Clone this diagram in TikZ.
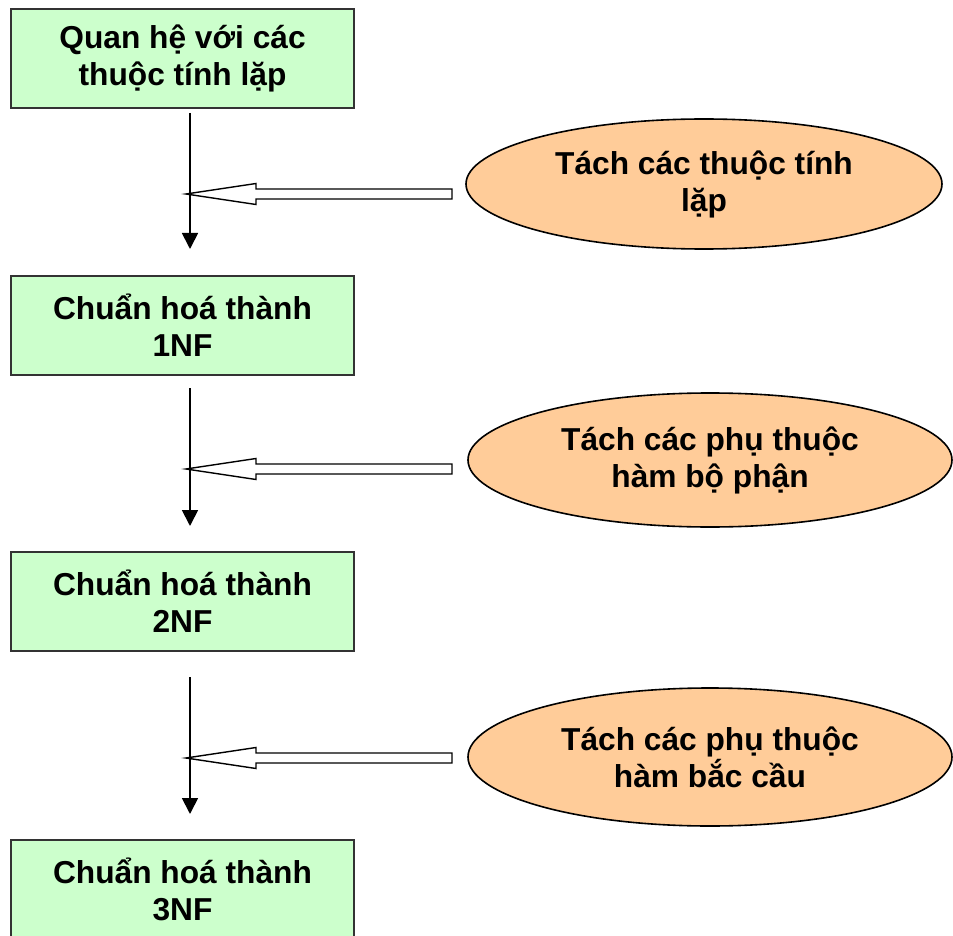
\documentclass[tikz,border=0pt]{standalone}
\usepackage{fontspec}
\setmainfont{Liberation Sans}
\usetikzlibrary{shapes.geometric,arrows.meta}

\definecolor{stagegreen}{HTML}{CCFFCC}
\definecolor{splitpeach}{HTML}{FFCC99}

\tikzset{
  label font/.style={font=\bfseries\fontsize{31.7}{37}\selectfont},
  stage/.style={draw=black!80, line width=1.3pt, fill=stagegreen, label font,
    minimum width=343pt, minimum height=99pt, align=center, inner sep=0pt},
  split/.style={ellipse, draw=black, line width=1.6pt, fill=splitpeach, label font,
    align=center, inner sep=0pt},
  flow/.style={line width=1.8pt, -{Triangle[width=16pt,length=16pt]}},
  hollow/.style={draw=black, line width=1.4pt, fill=white, line join=miter}
}

\begin{document}
\begin{tikzpicture}[x=1pt,y=-1pt]
\useasboundingbox (0,0) rectangle (953,936);

% normal forms
\node[stage] (nf0) at (182.5,58.5) {Quan hệ với các\\thuộc tính lặp};
\node[stage] (nf1) at (182.5,325.5) {Chuẩn hoá thành\\1NF};
\node[stage] (nf2) at (182.5,601.5) {Chuẩn hoá thành\\2NF};
\node[stage] (nf3) at (182.5,889.5) {Chuẩn hoá thành\\3NF};

% decomposition steps
\node[split, minimum width=476pt, minimum height=130pt] (sp1) at (704,184) {Tách các thuộc tính\\lặp};
\node[split, minimum width=484pt, minimum height=134pt] (sp2) at (710,460) {Tách các phụ thuộc\\hàm bộ phận};
\node[split, minimum width=484pt, minimum height=138pt] (sp3) at (710,757) {Tách các phụ thuộc\\hàm bắc cầu};

% flow arrows
\coordinate (s1) at (190,113);  \coordinate (e1) at (190,249);
\coordinate (s2) at (190,388);  \coordinate (e2) at (190,526);
\coordinate (s3) at (190,677);  \coordinate (e3) at (190,814);
\foreach \i in {1,2,3}
  \draw[flow] (s\i) -- (e\i);

% hollow arrows into the flow
\coordinate (j1) at (186,194);
\coordinate (j2) at (186,469);
\coordinate (j3) at (186,758);
\foreach \i in {1,2,3}
  \draw[hollow] (j\i) -- ++(70,-10.5) -- ++(0,5.5) -- ++(196,0) -- ++(0,10)
    -- ++(-196,0) -- ++(0,5.5) -- cycle;

\end{tikzpicture}
\end{document}
